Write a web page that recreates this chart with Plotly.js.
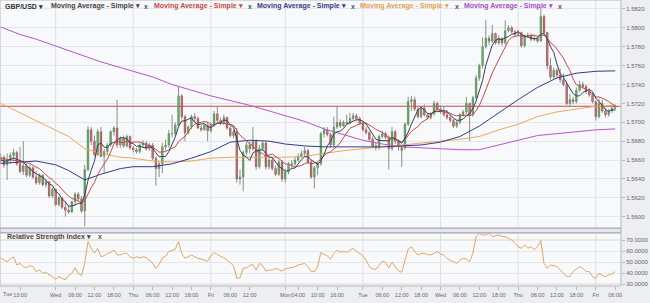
<!DOCTYPE html>
<html><head><meta charset="utf-8">
<script src="https://cdn.plot.ly/plotly-3.0.1.min.js"></script>
<style>html,body{margin:0;padding:0;background:#eceef1;}#chart{width:650px;height:303px;}</style>
</head><body><div id="chart"></div>
<script>
// ---- time categories (hourly candles, weekend skipped) ----
const sessions = [['Tue1',7,23],['Wed1',0,23],['Thu1',0,23],['Fri1',0,22],['Mon2',0,23],['Tue2',0,23],['Wed2',0,23],['Thu2',0,23],['Fri2',0,6]];
const times = [];
sessions.forEach(([d,a,b]) => { for (let h=a; h<=b; h++) times.push(d+' '+String(h).padStart(2,'0')+':00'); });

const firstDayLabel = 'Tue';
const tickTimes = ['Tue1 13:00','Wed1 00:00','Wed1 06:00','Wed1 12:00','Wed1 18:00','Thu1 00:00','Thu1 06:00','Thu1 12:00','Thu1 18:00','Fri1 00:00','Fri1 06:00','Fri1 12:00','Mon2 00:00','Mon2 04:00','Mon2 10:00','Mon2 16:00','Tue2 00:00','Tue2 06:00','Tue2 12:00','Tue2 18:00','Wed2 00:00','Wed2 06:00','Wed2 12:00','Wed2 18:00','Thu2 00:00','Thu2 06:00','Thu2 12:00','Thu2 18:00','Fri2 00:00','Fri2 06:00'];
const tickText = ['13:00','Wed','06:00','12:00','18:00','Thu','06:00','12:00','18:00','Fri','06:00','12:00','Mon','04:00','10:00','16:00','Tue','06:00','12:00','18:00','Wed','06:00','12:00','18:00','Thu','06:00','12:00','18:00','Fri','06:00'];
const dayStarts = ['Wed1 00:00','Thu1 00:00','Fri1 00:00','Mon2 00:00','Tue2 00:00','Wed2 00:00','Thu2 00:00','Fri2 00:00'];

// ---- GBP/USD hourly OHLC ----
const open = [
1.5660,1.5663,1.5655,1.5660,1.5665,1.5668,1.5656,1.5648,1.5654,1.5644,
1.5652,1.5642,1.5636,1.5644,1.5634,1.5637,1.5622,1.5629,1.5613,1.5620,
1.5610,1.5607,1.5605,1.5616,1.5624,1.5619,1.5606,1.5650,1.5692,1.5680,
1.5666,1.5690,1.5664,1.5669,1.5676,1.5690,1.5694,1.5676,1.5683,1.5675,
1.5685,1.5673,1.5671,1.5669,1.5676,1.5678,1.5672,1.5676,1.5662,1.5651,
1.5656,1.5674,1.5676,1.5688,1.5688,1.5697,1.5728,1.5706,1.5689,1.5695,
1.5706,1.5704,1.5694,1.5692,1.5697,1.5691,1.5697,1.5709,1.5702,1.5699,
1.5705,1.5694,1.5686,1.5690,1.5640,1.5642,1.5668,1.5676,1.5672,1.5680,
1.5653,1.5672,1.5678,1.5653,1.5660,1.5651,1.5645,1.5658,1.5640,1.5647,
1.5655,1.5656,1.5660,1.5664,1.5667,1.5670,1.5658,1.5642,1.5652,1.5656,
1.5688,1.5692,1.5687,1.5676,1.5695,1.5700,1.5696,1.5700,1.5699,1.5704,
1.5707,1.5704,1.5699,1.5692,1.5689,1.5682,1.5675,1.5673,1.5685,1.5688,
1.5684,1.5672,1.5690,1.5680,1.5670,1.5673,1.5698,1.5722,1.5724,1.5714,
1.5706,1.5715,1.5708,1.5705,1.5709,1.5720,1.5714,1.5711,1.5708,1.5705,
1.5702,1.5696,1.5700,1.5708,1.5711,1.5720,1.5708,1.5726,1.5747,1.5760,
1.5780,1.5789,1.5786,1.5794,1.5784,1.5789,1.5784,1.5797,1.5800,1.5796,
1.5793,1.5795,1.5781,1.5791,1.5792,1.5788,1.5789,1.5786,1.5812,1.5795,
1.5760,1.5748,1.5755,1.5750,1.5745,1.5740,1.5720,1.5724,1.5722,1.5734,
1.5740,1.5738,1.5733,1.5729,1.5722,1.5706,1.5720,1.5712,1.5708,1.5712,
1.5715];
const high = [
1.5667,1.5665,1.5667,1.5668,1.5672,1.5670,1.5674,1.5680,1.5656,1.5655,
1.5653,1.5648,1.5646,1.5645,1.5640,1.5638,1.5631,1.5630,1.5622,1.5621,
1.5616,1.5612,1.5617,1.5626,1.5626,1.5622,1.5655,1.5696,1.5695,1.5686,
1.5693,1.5695,1.5672,1.5678,1.5692,1.5696,1.5724,1.5685,1.5686,1.5687,
1.5686,1.5675,1.5673,1.5678,1.5681,1.5680,1.5678,1.5678,1.5664,1.5658,
1.5678,1.5682,1.5692,1.5708,1.5700,1.5738,1.5730,1.5708,1.5697,1.5708,
1.5710,1.5706,1.5697,1.5699,1.5700,1.5700,1.5712,1.5717,1.5705,1.5708,
1.5706,1.5696,1.5692,1.5694,1.5650,1.5670,1.5679,1.5680,1.5695,1.5682,
1.5676,1.5680,1.5680,1.5663,1.5662,1.5654,1.5660,1.5660,1.5651,1.5658,
1.5660,1.5663,1.5667,1.5670,1.5674,1.5672,1.5660,1.5654,1.5658,1.5690,
1.5695,1.5695,1.5689,1.5706,1.5717,1.5703,1.5702,1.5708,1.5710,1.5710,
1.5709,1.5706,1.5701,1.5695,1.5691,1.5685,1.5678,1.5687,1.5691,1.5690,
1.5686,1.5695,1.5692,1.5682,1.5676,1.5700,1.5727,1.5728,1.5727,1.5716,
1.5717,1.5719,1.5710,1.5711,1.5723,1.5722,1.5718,1.5717,1.5713,1.5708,
1.5704,1.5702,1.5710,1.5713,1.5727,1.5721,1.5728,1.5750,1.5762,1.5790,
1.5808,1.5792,1.5803,1.5795,1.5792,1.5790,1.5808,1.5803,1.5802,1.5798,
1.5798,1.5796,1.5793,1.5795,1.5794,1.5792,1.5791,1.5822,1.5814,1.5796,
1.5768,1.5758,1.5757,1.5757,1.5752,1.5742,1.5730,1.5727,1.5737,1.5744,
1.5743,1.5740,1.5736,1.5731,1.5723,1.5725,1.5724,1.5715,1.5714,1.5717,
1.5719];
const low = [
1.5656,1.5652,1.5639,1.5656,1.5660,1.5654,1.5646,1.5644,1.5642,1.5642,
1.5640,1.5634,1.5634,1.5632,1.5631,1.5620,1.5620,1.5611,1.5611,1.5608,
1.5600,1.5603,1.5604,1.5612,1.5617,1.5604,1.5590,1.5648,1.5676,1.5664,
1.5664,1.5663,1.5646,1.5666,1.5674,1.5686,1.5673,1.5673,1.5673,1.5673,
1.5671,1.5668,1.5667,1.5667,1.5674,1.5670,1.5670,1.5660,1.5633,1.5642,
1.5646,1.5670,1.5673,1.5684,1.5686,1.5696,1.5703,1.5680,1.5687,1.5693,
1.5700,1.5693,1.5690,1.5691,1.5680,1.5689,1.5695,1.5700,1.5697,1.5697,
1.5692,1.5684,1.5683,1.5636,1.5634,1.5627,1.5665,1.5667,1.5670,1.5650,
1.5651,1.5670,1.5650,1.5650,1.5649,1.5643,1.5643,1.5637,1.5636,1.5645,
1.5652,1.5654,1.5658,1.5662,1.5664,1.5656,1.5640,1.5630,1.5644,1.5654,
1.5684,1.5685,1.5673,1.5674,1.5693,1.5694,1.5695,1.5697,1.5698,1.5702,
1.5701,1.5697,1.5690,1.5687,1.5680,1.5673,1.5670,1.5671,1.5683,1.5682,
1.5650,1.5670,1.5677,1.5670,1.5653,1.5671,1.5696,1.5712,1.5712,1.5704,
1.5704,1.5706,1.5703,1.5703,1.5707,1.5712,1.5709,1.5706,1.5703,1.5700,
1.5694,1.5694,1.5698,1.5706,1.5709,1.5680,1.5706,1.5724,1.5744,1.5757,
1.5778,1.5782,1.5784,1.5782,1.5782,1.5781,1.5782,1.5795,1.5794,1.5791,
1.5791,1.5779,1.5779,1.5789,1.5786,1.5786,1.5784,1.5785,1.5793,1.5756,
1.5745,1.5746,1.5747,1.5742,1.5738,1.5718,1.5716,1.5719,1.5720,1.5732,
1.5735,1.5730,1.5727,1.5720,1.5702,1.5704,1.5710,1.5705,1.5706,1.5710,
1.5713];
const close = [
1.5663,1.5655,1.5660,1.5665,1.5668,1.5656,1.5648,1.5654,1.5644,1.5652,
1.5642,1.5636,1.5644,1.5634,1.5637,1.5622,1.5629,1.5613,1.5620,1.5610,
1.5607,1.5605,1.5616,1.5624,1.5619,1.5606,1.5650,1.5692,1.5680,1.5666,
1.5690,1.5664,1.5669,1.5676,1.5690,1.5694,1.5676,1.5683,1.5675,1.5685,
1.5673,1.5671,1.5669,1.5676,1.5678,1.5672,1.5676,1.5662,1.5651,1.5656,
1.5674,1.5676,1.5688,1.5688,1.5697,1.5728,1.5706,1.5689,1.5695,1.5706,
1.5704,1.5694,1.5692,1.5697,1.5691,1.5697,1.5709,1.5702,1.5699,1.5705,
1.5694,1.5686,1.5690,1.5640,1.5642,1.5668,1.5676,1.5672,1.5680,1.5653,
1.5672,1.5678,1.5653,1.5660,1.5651,1.5645,1.5658,1.5640,1.5647,1.5655,
1.5656,1.5660,1.5664,1.5667,1.5670,1.5658,1.5642,1.5652,1.5656,1.5688,
1.5692,1.5687,1.5676,1.5695,1.5700,1.5696,1.5700,1.5699,1.5704,1.5707,
1.5704,1.5699,1.5692,1.5689,1.5682,1.5675,1.5673,1.5685,1.5688,1.5684,
1.5672,1.5690,1.5680,1.5674,1.5673,1.5698,1.5722,1.5724,1.5714,1.5706,
1.5715,1.5708,1.5705,1.5709,1.5720,1.5714,1.5711,1.5708,1.5705,1.5702,
1.5696,1.5700,1.5708,1.5711,1.5720,1.5708,1.5726,1.5747,1.5760,1.5780,
1.5789,1.5786,1.5794,1.5784,1.5789,1.5784,1.5797,1.5800,1.5796,1.5793,
1.5795,1.5781,1.5791,1.5792,1.5788,1.5789,1.5786,1.5812,1.5795,1.5760,
1.5748,1.5755,1.5750,1.5745,1.5740,1.5720,1.5724,1.5722,1.5734,1.5740,
1.5738,1.5733,1.5729,1.5722,1.5706,1.5720,1.5712,1.5708,1.5712,1.5715,
1.5717];

// ---- moving averages (per candle) ----
const maDark = [
1.56600,1.56590,1.56590,1.56610,1.56622,1.56608,1.56594,1.56582,1.56540,1.56508,
1.56480,1.56456,1.56436,1.56416,1.56386,1.56346,1.56332,1.56270,1.56242,1.56188,
1.56158,1.56110,1.56116,1.56124,1.56142,1.56140,1.56230,1.56382,1.56494,1.56588,
1.56756,1.56784,1.56738,1.56730,1.56778,1.56786,1.56810,1.56838,1.56836,1.56826,
1.56784,1.56774,1.56746,1.56748,1.56734,1.56732,1.56742,1.56728,1.56678,1.56634,
1.56638,1.56638,1.56690,1.56764,1.56846,1.56954,1.57014,1.57016,1.57030,1.57048,
1.57000,1.56976,1.56982,1.56986,1.56956,1.56942,1.56972,1.56992,1.56996,1.57024,
1.57018,1.56972,1.56948,1.56830,1.56704,1.56652,1.56632,1.56596,1.56676,1.56698,
1.56706,1.56710,1.56672,1.56632,1.56628,1.56574,1.56534,1.56508,1.56482,1.56490,
1.56512,1.56516,1.56564,1.56604,1.56634,1.56638,1.56602,1.56578,1.56556,1.56592,
1.56660,1.56750,1.56798,1.56876,1.56900,1.56908,1.56934,1.56980,1.56998,1.57012,
1.57028,1.57026,1.57012,1.56982,1.56932,1.56874,1.56822,1.56808,1.56806,1.56810,
1.56804,1.56838,1.56828,1.56800,1.56778,1.56830,1.56894,1.56982,1.57062,1.57128,
1.57162,1.57134,1.57096,1.57086,1.57114,1.57112,1.57118,1.57124,1.57116,1.57080,
1.57044,1.57022,1.57022,1.57034,1.57070,1.57094,1.57146,1.57224,1.57322,1.57442,
1.57604,1.57724,1.57818,1.57866,1.57884,1.57874,1.57896,1.57908,1.57932,1.57940,
1.57962,1.57930,1.57912,1.57904,1.57894,1.57882,1.57892,1.57934,1.57940,1.57884,
1.57802,1.57740,1.57616,1.57516,1.57476,1.57420,1.57358,1.57302,1.57280,1.57280,
1.57316,1.57334,1.57348,1.57324,1.57256,1.57220,1.57178,1.57136,1.57116,1.57134,
1.57128];
const maRed = [
1.56620,1.56615,1.56610,1.56605,1.56600,1.56590,1.56585,1.56580,1.56570,1.56565,
1.56544,1.56525,1.56509,1.56478,1.56447,1.56413,1.56394,1.56353,1.56329,1.56287,
1.56252,1.56221,1.56193,1.56183,1.56165,1.56149,1.56170,1.56249,1.56309,1.56365,
1.56448,1.56507,1.56560,1.56612,1.56683,1.56771,1.56797,1.56788,1.56783,1.56802,
1.56785,1.56792,1.56792,1.56792,1.56780,1.56758,1.56758,1.56737,1.56713,1.56684,
1.56685,1.56690,1.56709,1.56721,1.56740,1.56796,1.56826,1.56853,1.56897,1.56947,
1.56977,1.56995,1.56999,1.57008,1.57002,1.56971,1.56974,1.56987,1.56991,1.56990,
1.56980,1.56972,1.56970,1.56913,1.56864,1.56835,1.56802,1.56772,1.56753,1.56701,
1.56679,1.56671,1.56634,1.56654,1.56663,1.56640,1.56622,1.56590,1.56557,1.56559,
1.56543,1.56525,1.56536,1.56543,1.56562,1.56575,1.56559,1.56571,1.56580,1.56613,
1.56649,1.56676,1.56688,1.56716,1.56746,1.56784,1.56842,1.56889,1.56937,1.56956,
1.56968,1.56980,1.56996,1.56990,1.56972,1.56951,1.56924,1.56910,1.56894,1.56871,
1.56839,1.56830,1.56818,1.56803,1.56794,1.56817,1.56866,1.56905,1.56931,1.56953,
1.56996,1.57014,1.57039,1.57074,1.57121,1.57137,1.57126,1.57110,1.57101,1.57097,
1.57078,1.57070,1.57073,1.57075,1.57075,1.57069,1.57084,1.57123,1.57178,1.57256,
1.57349,1.57435,1.57521,1.57594,1.57663,1.57739,1.57810,1.57863,1.57899,1.57912,
1.57918,1.57913,1.57910,1.57918,1.57917,1.57922,1.57911,1.57923,1.57922,1.57889,
1.57842,1.57816,1.57775,1.57728,1.57680,1.57611,1.57549,1.57459,1.57398,1.57378,
1.57368,1.57346,1.57325,1.57302,1.57268,1.57268,1.57256,1.57242,1.57220,1.57195,
1.57174];

// ---- slow moving averages (sampled every few hours) ----
const maTimes = ['Tue1 07:00','Tue1 13:00','Tue1 18:00','Wed1 00:00','Wed1 04:00','Wed1 09:00','Wed1 14:00','Wed1 20:00','Thu1 00:00','Thu1 06:00','Thu1 12:00','Thu1 18:00','Fri1 00:00','Fri1 06:00','Fri1 12:00','Fri1 18:00','Mon2 00:00','Mon2 06:00','Mon2 12:00','Mon2 18:00','Tue2 00:00','Tue2 06:00','Tue2 12:00','Tue2 18:00','Wed2 00:00','Wed2 06:00','Wed2 12:00','Wed2 18:00','Thu2 00:00','Thu2 06:00','Thu2 12:00','Thu2 18:00','Fri2 00:00','Fri2 06:00'];
const maNavy = [1.56565,1.56580,1.56590,1.56550,1.56490,1.56390,1.56450,1.56510,1.56530,1.56530,1.56560,1.56620,1.56690,1.56790,1.56810,1.56800,1.56770,1.56750,1.56740,1.56740,1.56740,1.56740,1.56750,1.56760,1.56790,1.56850,1.56960,1.57100,1.57240,1.57370,1.57470,1.57520,1.57540,1.57545];
const maOrange = [1.57200,1.57100,1.57020,1.56920,1.56850,1.56720,1.56670,1.56630,1.56620,1.56590,1.56580,1.56590,1.56620,1.56630,1.56630,1.56630,1.56630,1.56640,1.56670,1.56700,1.56720,1.56740,1.56760,1.56780,1.56800,1.56820,1.56850,1.56920,1.56980,1.57060,1.57110,1.57140,1.57170,1.57180];
const maPurple = [1.58010,1.57930,1.57880,1.57810,1.57760,1.57700,1.57640,1.57580,1.57540,1.57480,1.57400,1.57340,1.57280,1.57230,1.57180,1.57120,1.57070,1.57010,1.56930,1.56870,1.56810,1.56770,1.56740,1.56730,1.56720,1.56710,1.56710,1.56760,1.56810,1.56860,1.56880,1.56900,1.56920,1.56930];

// ---- RSI (per candle) ----
const rsi = [
54,52,50.5,53,55,47.5,49,46,45,47,
46,41.5,43,40,41,38.5,37,34.5,37,35.5,
34,38,40,45,40,38,49,68.8,62.7,58.2,
62.7,55,56,58,59,61.2,57,56.6,58,58.2,
55,53.6,55,54,55,54.2,52,49,44.5,48,
54,55.5,59.7,61.2,62,68.8,58,53.6,55,56.6,
55,53.6,53,52,51,56,58.8,57,55.7,54,
52,49.2,47,35.4,36,44.6,45,47,48,43,
49,47,42,43,43,44.6,43,42,44,44.6,
45.5,46,47.5,48,49,46,41.5,41.5,46,58.8,
57,55.7,53,58,61,59,60,59,61,62.7,
60,58,56,52,46,44,43.5,47,51,50,
45,50,46,42,41,52,62,64.2,59.7,56.6,
58,58.2,57,56.6,58,59.7,57.5,56.6,53.6,51.5,
50.6,49,52,53.6,53,50.6,58.2,73.3,76.4,74.8,
74.8,76.4,73.3,74,74.8,73.5,73.3,71.8,70.3,67.3,
64,62.7,65.8,62.7,64.2,61.2,64.2,69.7,49,44.5,
47.5,47,46,43,40,37,37,41.5,44,46,
44.5,41.5,41.5,37,35.5,40,38,37,38.5,39.5,
41.5];
const rsiLevels = [70, 30];

// ---- drawing ----
const FONT = 'Liberation Sans, Arial, sans-serif';
const XR = 621/650;
const mainDom = [75/303, 1];
const rsiDom = [17/303, 70/303];
const xRange = [-0.2, 191.8];

const bodyHi = open.map((o,k)=>Math.max(o, close[k]));
const bodyLo = open.map((o,k)=>Math.min(o, close[k]));

const traces = [
  {type:'ohlc', x:times, open:open, high:high, low:low, close:close, xaxis:'x', yaxis:'y', tickwidth:0,
   increasing:{line:{color:'#8e8e8e', width:1}}, decreasing:{line:{color:'#8e8e8e', width:1}}, hoverinfo:'skip'},
  {type:'candlestick', x:times, open:open, high:bodyHi, low:bodyLo, close:close, xaxis:'x', yaxis:'y', whiskerwidth:0,
   increasing:{fillcolor:'#3aaa3a', line:{color:'#2a8c2a', width:0.5}},
   decreasing:{fillcolor:'#cc3434', line:{color:'#a82626', width:0.5}}, hoverinfo:'skip'},
  {type:'scatter', mode:'lines', x:maTimes, y:maPurple, line:{color:'#b457c8', width:1}, xaxis:'x', yaxis:'y'},
  {type:'scatter', mode:'lines', x:maTimes, y:maOrange, line:{color:'#e8a95e', width:1}, xaxis:'x', yaxis:'y'},
  {type:'scatter', mode:'lines', x:maTimes, y:maNavy, line:{color:'#343c86', width:1}, xaxis:'x', yaxis:'y'},
  {type:'scatter', mode:'lines', x:times, y:maRed, line:{color:'#c14a4a', width:1}, xaxis:'x', yaxis:'y'},
  {type:'scatter', mode:'lines', x:times, y:maDark, line:{color:'#3a3f55', width:1}, xaxis:'x', yaxis:'y'},
  {type:'scatter', mode:'lines', x:times, y:rsi, line:{color:'#dfa567', width:1}, xaxis:'x', yaxis:'y2'}
];

const shapes = [];
dayStarts.forEach(d => {
  const j = times.indexOf(d);
  shapes.push({type:'line', xref:'x', yref:'paper', x0:j, x1:j, y0:mainDom[0], y1:mainDom[1], line:{color:'#dcdfe5', width:1}, layer:'below'});
  shapes.push({type:'line', xref:'x', yref:'paper', x0:j, x1:j, y0:rsiDom[0], y1:rsiDom[1], line:{color:'#dcdfe5', width:1}, layer:'below'});
});
rsiLevels.forEach(v => shapes.push({type:'line', xref:'x', yref:'y2', x0:xRange[0], x1:xRange[1], y0:v, y1:v, line:{color:'#e6b27a', width:1}, layer:'below'}));
const lastClose = close[close.length-1];
shapes.push({type:'line', xref:'x', yref:'y', x0:xRange[0], x1:xRange[1], y0:lastClose, y1:lastClose, line:{color:'#c24b4b', width:1}, layer:'below'});
shapes.push({type:'rect', xref:'paper', yref:'paper', x0:0, x1:XR, y0:mainDom[0], y1:mainDom[1], line:{color:'#b3b7bd', width:1}, fillcolor:'rgba(0,0,0,0)'});
shapes.push({type:'rect', xref:'paper', yref:'paper', x0:0, x1:XR, y0:rsiDom[0], y1:rsiDom[1], line:{color:'#b3b7bd', width:1}, fillcolor:'rgba(0,0,0,0)'});
shapes.push({type:'rect', xref:'paper', yref:'paper', x0:0, x1:XR, y0:rsiDom[1]+0.001, y1:mainDom[0]-0.001, line:{color:'#a9adb4', width:1}, fillcolor:'#e3e6ea'});

const legendY = 1 - 6/303;
const legendItems = [
  ['GBP/USD ▾', 3, '#333333'],
  ['Moving Average - Simple ▾', 49, '#444444'], ['x', 142, '#555555'],
  ['Moving Average - Simple ▾', 152, '#c14a4a'], ['x', 246, '#555555'],
  ['Moving Average - Simple ▾', 255, '#343c86'], ['x', 349, '#555555'],
  ['Moving Average - Simple ▾', 358, '#e0a050'], ['x', 453, '#555555'],
  ['Moving Average - Simple ▾', 462, '#a94cc0'], ['x', 556, '#555555']
];
const annotations = legendItems.map(([t, px, c]) => ({
  xref:'paper', yref:'paper', x:px/650, y:legendY, xanchor:'left', yanchor:'middle', showarrow:false,
  text:'<b>'+t+'</b>', font:{family:FONT, size:7, color:c}
}));
annotations.push({xref:'paper', yref:'paper', x:5/650, y:1-236.7/303, xanchor:'left', yanchor:'middle', showarrow:false,
  text:'<b>Relative Strength Index ▾</b>', font:{family:FONT, size:7, color:'#444'}});
annotations.push({xref:'paper', yref:'paper', x:96/650, y:1-236.7/303, xanchor:'left', yanchor:'middle', showarrow:false,
  text:'<b>x</b>', font:{family:FONT, size:7, color:'#555'}});
// first day label sits at the very left edge of the axis
annotations.push({xref:'paper', yref:'paper', x:0.5/650, y:1-293.5/303, xanchor:'left', yanchor:'middle', showarrow:false,
  text:firstDayLabel, font:{family:FONT, size:5.5, color:'#666'}});

const tickFont = {family:FONT, size:6, color:'#666'};
const layout = {
  width:650, height:303, margin:{l:0, r:0, t:0, b:0},
  paper_bgcolor:'#eceef1', plot_bgcolor:'#f8f9fb',
  showlegend:false, hovermode:false, boxgap:0.3,
  xaxis:{domain:[0, XR], anchor:'y2', type:'category', categoryorder:'array', categoryarray:times,
    range:xRange, rangeslider:{visible:false}, showgrid:false, zeroline:false, showline:false,
    tickmode:'array', tickvals:tickTimes, ticktext:tickText, tickangle:0, ticks:'outside', ticklen:3, tickcolor:'#b5b8bd',
    tickfont:{family:FONT, size:5.5, color:'#666'}, fixedrange:true},
  yaxis:{domain:mainDom, anchor:'x', side:'right', range:[1.55881, 1.58295], tick0:1.56, dtick:0.002,
    tickformat:'.4f', ticks:'outside', ticklen:3, tickcolor:'#b5b8bd', gridcolor:'#e3e6ea', zeroline:false,
    showline:false, tickfont:tickFont, fixedrange:true},
  yaxis2:{domain:rsiDom, anchor:'x', side:'right', range:[28.45, 76.6], tickvals:[30,40,50,60,70],
    tickformat:'.4f', ticks:'outside', ticklen:3, tickcolor:'#b5b8bd', gridcolor:'#e3e6ea', zeroline:false,
    showline:false, tickfont:tickFont, fixedrange:true},
  shapes:shapes, annotations:annotations
};
Plotly.newPlot('chart', traces, layout, {displayModeBar:false, staticPlot:true});
</script></body></html>
